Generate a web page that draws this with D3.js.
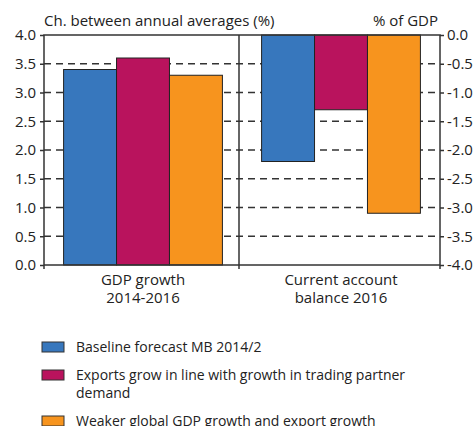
<!DOCTYPE html>
<html>
<head>
<meta charset="utf-8">
<script src="https://cdn.jsdelivr.net/npm/d3@7"></script>
<style>
  body { margin: 0; background: #fff; }
  svg text { font-family: "Open Sans", sans-serif; fill: #222; }
</style>
</head>
<body>
<svg id="chart" width="476" height="426"></svg>
<script>
// data
var categories = ["GDP growth|2014-2016", "Current account|balance 2016"];
var seriesNames = [
  "Baseline forecast MB 2014/2",
  "Exports grow in line with growth in trading partner|demand",
  "Weaker global GDP growth and export growth"
];
var seriesColors = ["#3777bd", "#b9135d", "#f7941e"];
var gdpGrowth = [3.4, 3.6, 3.3];
var currentAccount = [-2.2, -1.3, -3.1];
var leftTicks = [0, 0.5, 1, 1.5, 2, 2.5, 3, 3.5, 4];
var rightTicks = [0, -0.5, -1, -1.5, -2, -2.5, -3, -3.5, -4];

var svg = d3.select("#chart");
var plotL = 44, plotR = 440, plotT = 35, plotB = 265;

var yL = d3.scaleLinear().domain([0, 4]).range([plotB, plotT]);
var yR = d3.scaleLinear().domain([-4, 0]).range([plotB, plotT]);

var x0 = d3.scaleBand().domain(categories).range([plotL, plotR]);
var x1 = d3.scaleBand().domain(d3.range(3)).range([0, x0.bandwidth()])
  .paddingInner(0).paddingOuter(0.37);

// dashed grid
svg.append("g").selectAll("line")
  .data(leftTicks.slice(1, -1))
  .enter().append("line")
  .attr("x1", plotL).attr("x2", plotR)
  .attr("y1", function(d) { return yL(d); })
  .attr("y2", function(d) { return yL(d); })
  .attr("stroke", "#333").attr("stroke-width", 1.5)
  .attr("stroke-dasharray", "7,5");

// bars
var panels = [
  { cat: categories[0], vals: gdpGrowth, y: yL },
  { cat: categories[1], vals: currentAccount, y: yR }
];
panels.forEach(function(p) {
  svg.append("g")
    .attr("transform", "translate(" + x0(p.cat) + ",0)")
    .selectAll("rect")
    .data(p.vals)
    .enter().append("rect")
    .attr("x", function(d, i) { return x1(i); })
    .attr("width", x1.bandwidth())
    .attr("y", function(d) { return Math.min(p.y(d), p.y(0)); })
    .attr("height", function(d) { return Math.abs(p.y(d) - p.y(0)); })
    .attr("fill", function(d, i) { return seriesColors[i]; })
    .attr("stroke", "#222").attr("stroke-width", 1);
});

// frame
var divX = x0(categories[1]) - 3;
var frame = svg.append("g").attr("stroke", "#333").attr("stroke-width", 1.5).attr("fill", "none");
frame.append("rect").attr("x", plotL).attr("y", plotT).attr("width", plotR - plotL).attr("height", plotB - plotT);
frame.append("line").attr("x1", divX).attr("x2", divX)
  .attr("y1", plotT).attr("y2", plotB + 4);
frame.append("line").attr("x1", plotL).attr("x2", plotL).attr("y1", plotB).attr("y2", plotB + 4);
frame.append("line").attr("x1", plotR).attr("x2", plotR).attr("y1", plotB).attr("y2", plotB + 4);

// axes
var axL = svg.append("g").attr("transform", "translate(" + plotL + ",0)")
  .call(d3.axisLeft(yL).tickValues(leftTicks).tickFormat(d3.format(".1f")).tickSize(4).tickPadding(4));
var axR = svg.append("g").attr("transform", "translate(" + plotR + ",0)")
  .call(d3.axisRight(yR).tickValues(rightTicks).tickFormat(d3.format(".1f")).tickSize(4).tickPadding(3));
[axL, axR].forEach(function(a) {
  a.select(".domain").remove();
  a.selectAll("line").attr("stroke", "#333").attr("stroke-width", 1.5);
  a.selectAll("text").attr("font-size", 15).attr("fill", "#222")
    .style("font-family", "'Open Sans', sans-serif");
});
axR.selectAll("text").text(function(d) { return d === 0 ? "0.0" : d3.format(".1f")(d).replace("−", "-"); });

// axis titles
svg.append("text").attr("x", plotL).attr("y", 26).attr("font-size", 15)
  .text("Ch. between annual averages (%)");
svg.append("text").attr("x", plotR - 2).attr("y", 26).attr("font-size", 15)
  .attr("text-anchor", "end").text("% of GDP");

// category labels
categories.forEach(function(c) {
  var cx = x0(c) + x0.bandwidth() / 2;
  c.split("|").forEach(function(s, i) {
    svg.append("text").attr("x", cx).attr("y", 285 + i * 18)
      .attr("font-size", 15).attr("text-anchor", "middle").text(s);
  });
});

// legend
var legY = [342, 370, 416];
seriesNames.forEach(function(n, i) {
  var g = svg.append("g").attr("transform", "translate(42," + legY[i] + ")");
  g.append("rect").attr("width", 22).attr("height", 10)
    .attr("fill", seriesColors[i]).attr("stroke", "#333").attr("stroke-width", 1);
  n.split("|").forEach(function(s, j) {
    g.append("text").attr("x", 34).attr("y", 10 + j * 18).attr("font-size", 14).text(s);
  });
});
</script>
</body>
</html>
